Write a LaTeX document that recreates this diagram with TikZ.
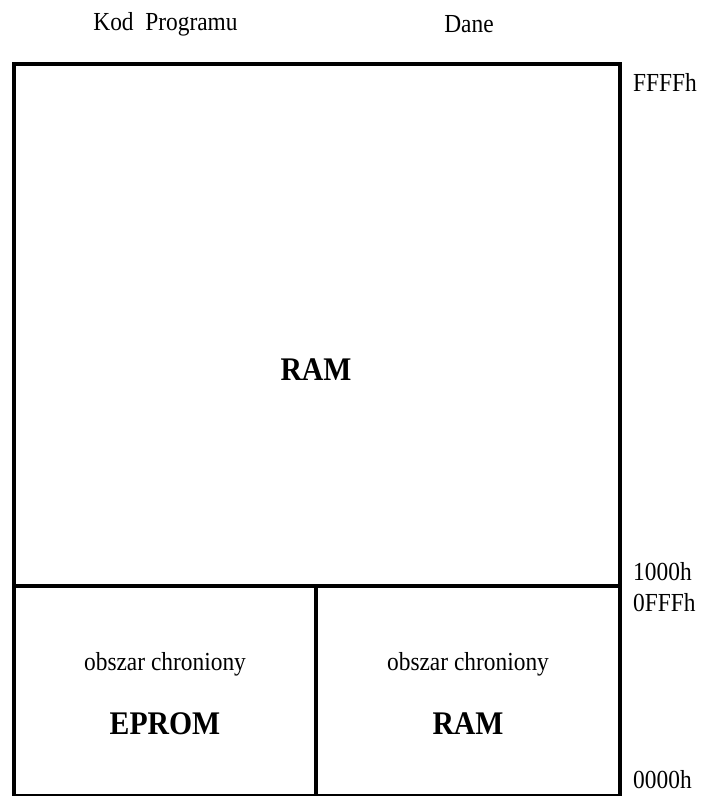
\documentclass[tikz,border=0pt]{standalone}
\usepackage{fontspec}
\setmainfont{Liberation Serif}[FakeStretch=0.9]
\begin{document}
\begin{tikzpicture}[x=1pt,y=-1pt,
  wall/.style={line width=4pt,line cap=rect},
  lbl/.style={inner sep=0pt,font=\fontsize{26}{30}\selectfont},
  big/.style={inner sep=0pt,font=\fontsize{33}{37}\selectfont\bfseries},
  addr/.style={lbl,anchor=west}]
\useasboundingbox (0,0) rectangle (703,796);
% corners
\coordinate (tl) at (14,64);
\coordinate (tr) at (619.5,64);
\coordinate (bl) at (14,796);
\coordinate (br) at (619.5,796);
\coordinate (ml) at (14,586);
\coordinate (mr) at (619.5,586);
\coordinate (mt) at (316,586);
\coordinate (mb) at (316,796);
% box
\draw[wall] (tl) rectangle (br);
\draw[wall] (ml) -- (mr);
\draw[wall] (mt) -- (mb);
% headers
\node[lbl] (kod) at (165.5,24) {Kod\ \ Programu};
\node[lbl] (dane) at (469,24) {Dane};
% contents
\node[big] (ram) at (316,370) {RAM};
\node[lbl] (obs1) at (165,664) {obszar chroniony};
\node[lbl] (obs2) at (468,664) {obszar chroniony};
\node[big] (eprom) at (165,724) {EPROM};
\node[big] (ram2) at (468,724) {RAM};
% addresses
\node[addr] (a1) at (633,82) {FFFFh};
\node[addr] (a2) at (633,572) {1000h};
\node[addr] (a3) at (633,603) {0FFFh};
\node[addr] (a4) at (633,780) {0000h};
\end{tikzpicture}
\end{document}
